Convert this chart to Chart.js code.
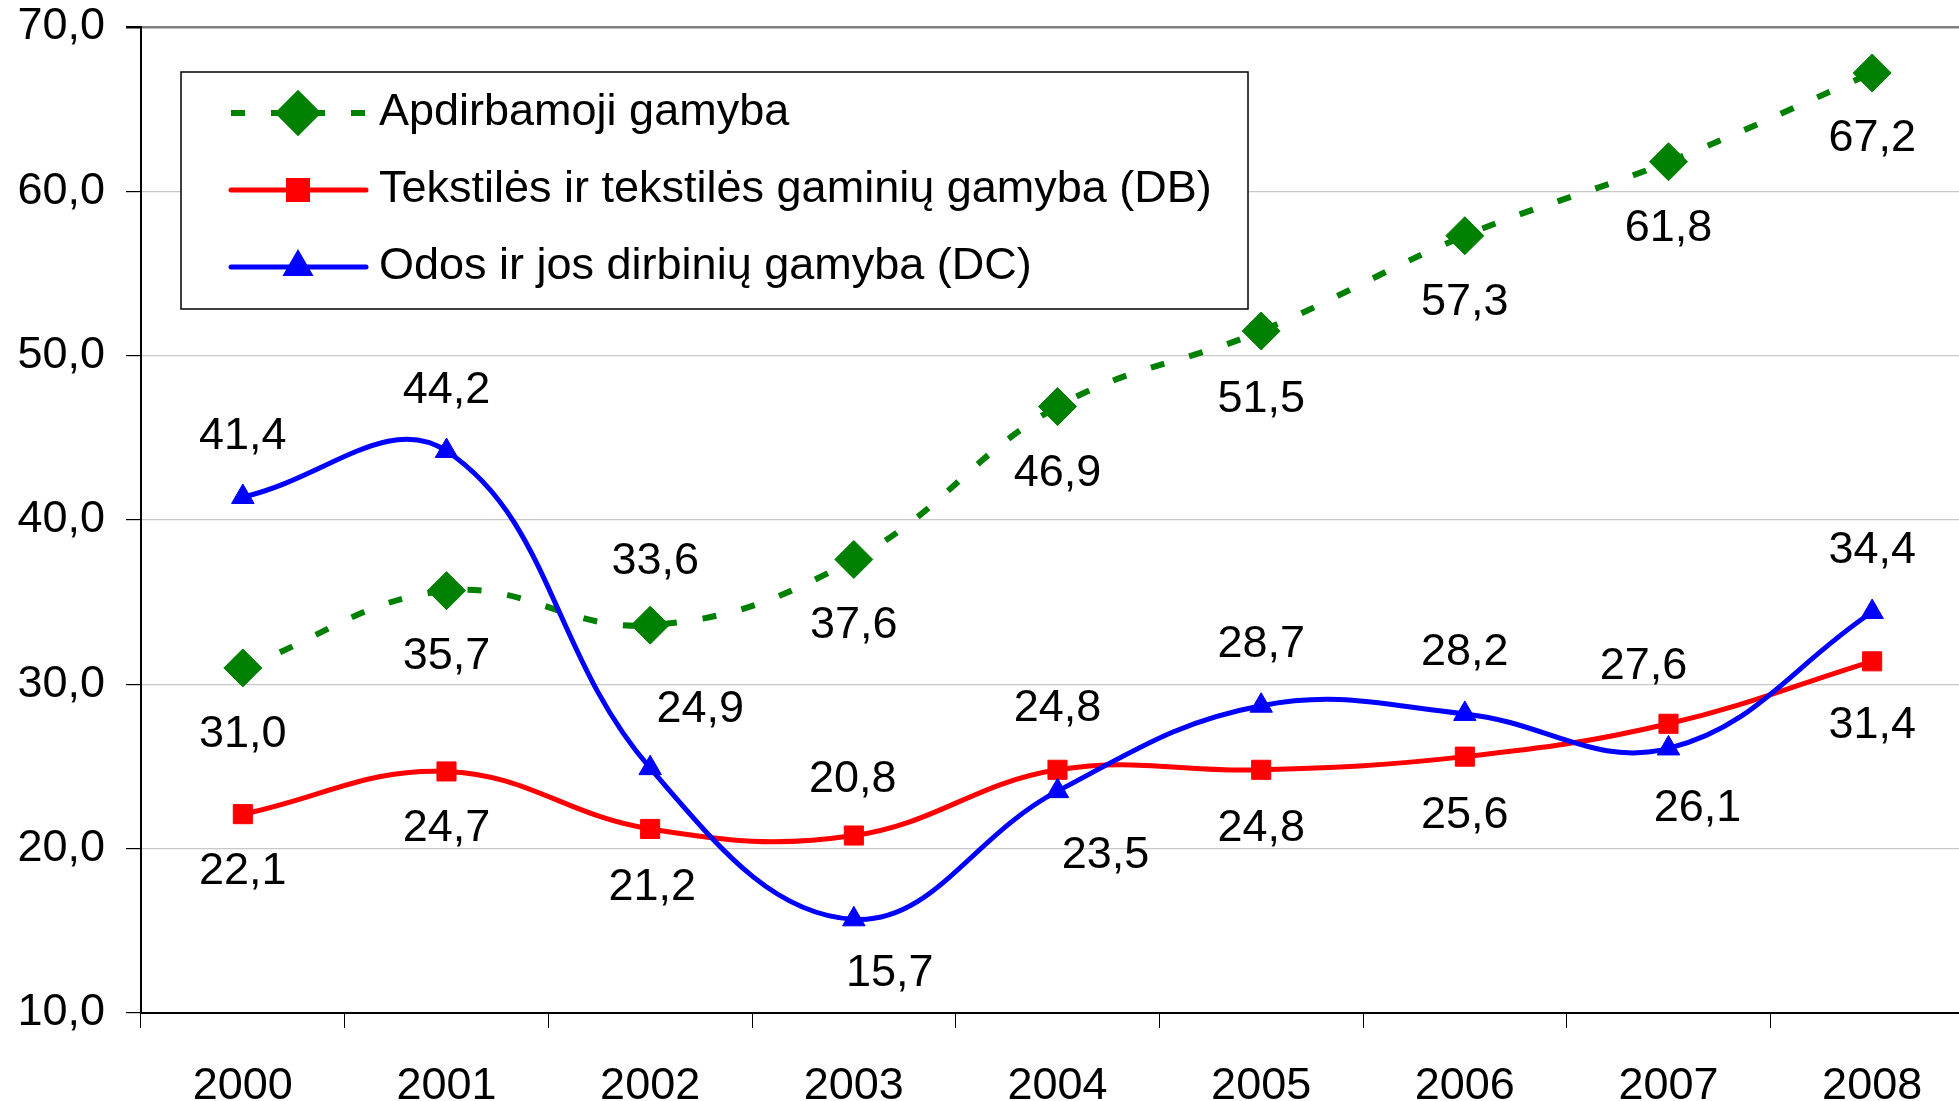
<!DOCTYPE html>
<html>
<head>
<meta charset="utf-8">
<script src="https://cdn.jsdelivr.net/npm/chart.js@4.4.0/dist/chart.umd.min.js"></script>
<style>
  html, body { margin: 0; padding: 0; background: #fff; overflow: hidden; }
  #chart { display: block; }
</style>
</head>
<body>
<canvas id="chart" width="1994" height="1101"></canvas>
<script>
// data
const years = ['2000', '2001', '2002', '2003', '2004', '2005', '2006', '2007', '2008'];
const manufacturing = [31.0, 35.7, 33.6, 37.6, 46.9, 51.5, 57.3, 61.8, 67.2];
const textiles = [22.1, 24.7, 21.2, 20.8, 24.8, 24.8, 25.6, 27.6, 31.4];
const leather = [41.4, 44.2, 24.9, 15.7, 23.5, 28.7, 28.2, 26.1, 34.4];
const seriesNames = [
    'Apdirbamoji gamyba',
    'Tekstilės ir tekstilės gaminių gamyba (DB)',
    'Odos ir jos dirbinių gamyba (DC)'
];

// where each value label sits relative to its point (px)
const manufacturingLabelPos = [[0, 67], [0, 66], [5, -64], [0, 66], [0, 67], [0, 69], [0, 67], [0, 67], [0, 66]];
const textilesLabelPos = [[0, 57], [0, 57], [2, 59], [-1, -56], [0, -61], [0, 59], [0, 59], [-25, -57], [0, 64]];
const leatherLabelPos = [[0, -60], [0, -60], [50, -59], [36, 54], [48, 64], [0, -61], [0, -61], [29, 60], [0, -61]];

const FONT = "'Liberation Sans', Arial, sans-serif";
const FONT_SIZE = 45;

function fmt(v) {
    return v.toFixed(1).replace('.', ',');
}

const valueLabels = {
    id: 'valueLabels',
    afterDatasetsDraw(chart) {
        const ctx = chart.ctx;
        ctx.save();
        ctx.font = FONT_SIZE + 'px ' + FONT;
        ctx.fillStyle = '#000';
        ctx.textAlign = 'center';
        ctx.textBaseline = 'middle';
        chart.data.datasets.forEach((ds, i) => {
            const meta = chart.getDatasetMeta(i);
            meta.data.forEach((pt, j) => {
                const off = ds.labelPos[j];
                ctx.fillText(fmt(ds.data[j]), pt.x + off[0], pt.y + off[1]);
            });
        });
        ctx.restore();
    }
};

const boxLegend = {
    id: 'boxLegend',
    afterDraw(chart) {
        const ctx = chart.ctx;
        ctx.save();
        ctx.fillStyle = '#fff';
        ctx.fillRect(181, 72, 1067, 237);
        ctx.strokeStyle = '#000';
        ctx.lineWidth = 1.5;
        ctx.strokeRect(181, 72, 1067, 237);
        chart.data.datasets.forEach((ds, i) => {
            const y = 113 + i * 77;
            ctx.beginPath();
            ctx.setLineDash(ds.borderDash || []);
            ctx.lineDashOffset = 0;
            ctx.lineWidth = ds.borderWidth;
            ctx.strokeStyle = ds.borderColor;
            ctx.lineCap = ds.borderDash ? 'butt' : 'round';
            ctx.moveTo(231, y);
            ctx.lineTo(366, y);
            ctx.stroke();
            ctx.setLineDash([]);
            ctx.fillStyle = ds.pointBackgroundColor;
            ctx.strokeStyle = ds.pointBorderColor;
            Chart.helpers.drawPoint(ctx, {
                pointStyle: ds.pointStyle,
                radius: ds.pointRadius,
                borderWidth: ds.pointBorderWidth,
                rotation: 0
            }, 298, y);
            ctx.fillStyle = '#000';
            ctx.font = FONT_SIZE + 'px ' + FONT;
            ctx.textAlign = 'left';
            ctx.textBaseline = 'middle';
            ctx.fillText(seriesNames[i], 379, y);
        });
        ctx.restore();
    }
};

const ctx = document.getElementById('chart').getContext('2d');
const chart = new Chart(ctx, {
    type: 'line',
    data: {
        labels: years,
        datasets: [{
            label: seriesNames[0],
            data: manufacturing,
            labelPos: manufacturingLabelPos,
            borderColor: '#008000',
            borderWidth: 6,
            borderDash: [14, 26],
            borderCapStyle: 'butt',
            tension: 0.4,
            pointStyle: 'rectRot',
            pointRadius: 19,
            pointBackgroundColor: '#008000',
            pointBorderColor: '#008000',
            pointBorderWidth: 1,
            order: 2
        }, {
            label: seriesNames[1],
            data: textiles,
            labelPos: textilesLabelPos,
            borderColor: '#ff0000',
            borderWidth: 5,
            tension: 0.4,
            pointStyle: 'rect',
            pointRadius: 13.5,
            pointBackgroundColor: '#ff0000',
            pointBorderColor: '#ff0000',
            pointBorderWidth: 1,
            order: 1
        }, {
            label: seriesNames[2],
            data: leather,
            labelPos: leatherLabelPos,
            borderColor: '#0000ff',
            borderWidth: 5,
            tension: 0.4,
            pointStyle: 'triangle',
            pointRadius: 13,
            pointBackgroundColor: '#0000ff',
            pointBorderColor: '#0000ff',
            pointBorderWidth: 1,
            order: 0
        }]
    },
    options: {
        responsive: false,
        animation: false,
        devicePixelRatio: 1,
        layout: { padding: { top: 27, right: 8, left: 0, bottom: 0 } },
        plugins: {
            legend: { display: false },
            tooltip: { enabled: false }
        },
        scales: {
            x: {
                offset: true,
                grid: {
                    offset: true,
                    drawOnChartArea: false,
                    drawTicks: true,
                    tickLength: 15,
                    tickColor: '#000'
                },
                border: { display: true, color: '#000', width: 2 },
                ticks: {
                    color: '#000',
                    font: { family: FONT, size: FONT_SIZE },
                    padding: 32,
                    maxRotation: 0
                },
                afterFit(scale) {
                    scale.height = 88;
                    scale.paddingLeft = 0;
                    scale.paddingRight = 0;
                }
            },
            y: {
                min: 10,
                max: 70,
                grid: {
                    color: (c) => c.tick && c.tick.value === 70 ? '#808080' : '#c8c8c8',
                    lineWidth: (c) => c.tick && c.tick.value === 70 ? 2.5 : 1.2,
                    tickLength: 15,
                    tickColor: '#000'
                },
                border: { display: true, color: '#000', width: 2 },
                ticks: {
                    stepSize: 10,
                    color: '#000',
                    font: { family: FONT, size: FONT_SIZE },
                    padding: 21,
                    callback: (v) => fmt(v)
                },
                afterFit(scale) {
                    scale.width = 141;
                    scale.paddingTop = 0;
                    scale.paddingBottom = 0;
                }
            }
        }
    },
    plugins: [valueLabels, boxLegend]
});
</script>
</body>
</html>
